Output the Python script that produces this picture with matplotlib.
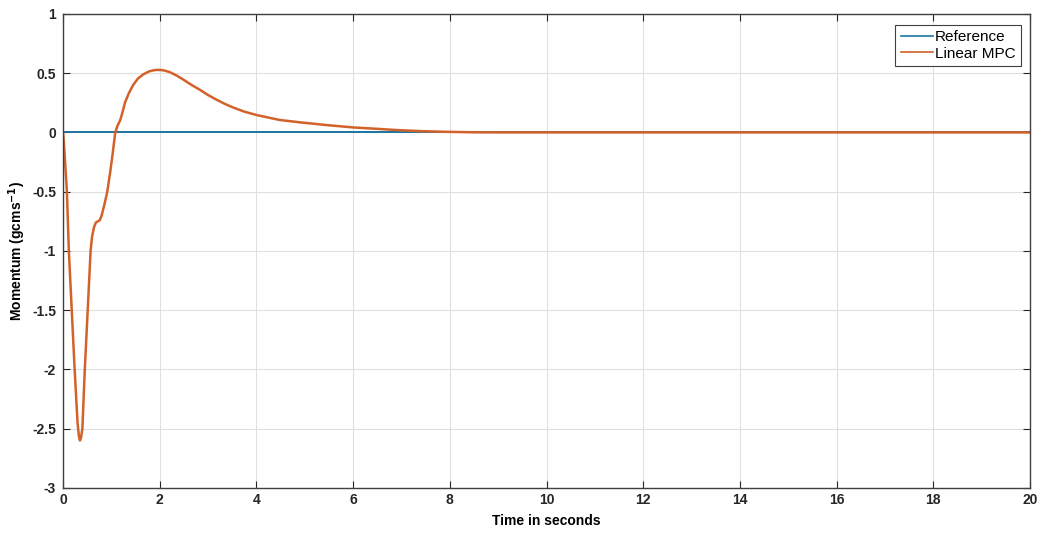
import numpy as np
import matplotlib
matplotlib.use("Agg")
import matplotlib.pyplot as plt

# Momentum response
t_mpc = [0.0, 0.02, 0.05, 0.08, 0.12, 0.18, 0.24, 0.30, 0.33, 0.35, 0.37,
         0.40, 0.45, 0.51, 0.57, 0.60, 0.64, 0.68, 0.72, 0.76, 0.80, 0.86,
         0.915, 0.97, 1.02, 1.08, 1.13, 1.18, 1.23, 1.28, 1.36, 1.45, 1.55,
         1.66, 1.78, 1.88, 1.97, 2.08, 2.2, 2.35, 2.49, 2.66, 2.83, 3.0,
         3.18, 3.35, 3.52, 3.75, 4.0, 4.25, 4.48, 4.9, 5.5, 6.0, 6.5, 6.9,
         7.4, 7.93, 8.5, 9.0, 20.0]
p_mpc = [0.0, -0.1, -0.3, -0.5, -1.0, -1.5, -2.0, -2.45, -2.57, -2.6, -2.58,
         -2.5, -2.0, -1.5, -1.0, -0.88, -0.8, -0.76, -0.75, -0.74, -0.70, -0.6,
         -0.5, -0.35, -0.2, 0.0, 0.06, 0.10, 0.17, 0.25, 0.33, 0.40, 0.455,
         0.49, 0.515, 0.525, 0.528, 0.524, 0.51, 0.48, 0.445, 0.40, 0.36, 0.315,
         0.275, 0.24, 0.21, 0.175, 0.147, 0.125, 0.105, 0.085, 0.06, 0.042, 0.03, 0.02,
         0.011, 0.005, 0.001, 0.0, 0.0]
t_ref = [0.0, 20.0]
p_ref = [0.0, 0.0]

xticks = np.arange(0, 21, 2)
yticks = np.arange(-3, 1.01, 0.5)
ytick_labels = ['-3', '-2.5', '-2', '-1.5', '-1', '-0.5', '0', '0.5', '1']

plt.rcParams['font.family'] = ['Liberation Sans', 'DejaVu Sans']
plt.rcParams['font.weight'] = 'bold'

fig = plt.figure(figsize=(10.42, 5.35), dpi=100)
ax = fig.add_axes([0.0605, 0.088, 0.928, 0.886])

ax.plot(t_ref, p_ref, color='#1a74a0', lw=1.4, label='Reference')
ax.plot(t_mpc, p_mpc, color='#d2622a', lw=1.8, label='Linear MPC')

ax.set_xlim(0, 20)
ax.set_ylim(-3, 1)
ax.set_xticks(xticks)
ax.set_xticklabels([str(v) for v in xticks], fontsize=10, fontweight='bold')
ax.set_yticks(yticks)
ax.set_yticklabels(ytick_labels, fontsize=10, fontweight='bold')
ax.tick_params(direction='in', top=True, right=True, length=5, width=0.8,
               colors='#262626')
ax.tick_params(axis='y', pad=5)
ax.tick_params(axis='x', pad=4)
ax.grid(True, color='#e0e0e0', lw=0.8)
ax.set_axisbelow(True)
for s in ax.spines.values():
    s.set_color('#404040')
    s.set_linewidth(1.0)

ax.set_xlabel('Time in seconds', fontsize=10, fontweight='bold', labelpad=5)
ax.set_ylabel('Momentum (gcms$^{\\mathbf{-1}}$)', fontsize=10, fontweight='bold')
ax.yaxis.set_label_coords(-0.036, 0.5)

leg = ax.legend(loc='upper right', bbox_to_anchor=(0.9907, 0.9768), borderaxespad=0,
                fontsize=11, handlelength=2.1, handletextpad=0.15,
                borderpad=0.35, labelspacing=0.15, fancybox=False, framealpha=1,
                edgecolor='#404040')
for txt in leg.get_texts():
    txt.set_fontweight('normal')
for h in leg.legend_handles:
    h.set_linewidth(1.2)
leg.get_frame().set_linewidth(0.8)

fig.savefig('out.png', dpi=100)
